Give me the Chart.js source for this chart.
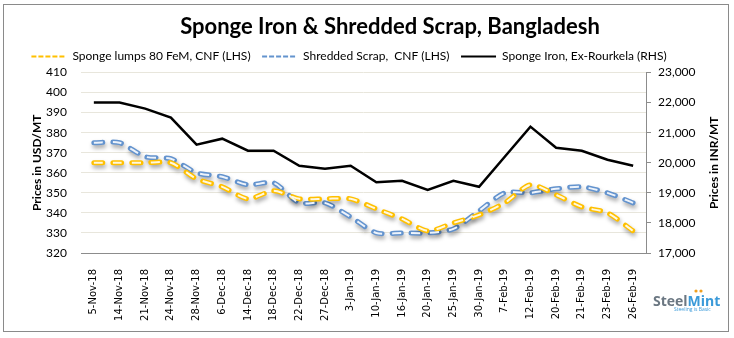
<!DOCTYPE html>
<html lang="en">
<head>
    <meta charset="UTF-8">
    <title>Sponge Iron & Shredded Scrap, Bangladesh</title>
    <script src="https://cdn.jsdelivr.net/npm/chart.js"></script>
    <style>
        html, body { margin: 0; padding: 0; background: #fff; }
        #caixa { width: 734px; height: 338px; position: relative; }
    </style>
</head>
<body>

    <div id="caixa"><canvas id="grafico"></canvas></div>

    <script>
        const datas = ['5-Nov-18', '14-Nov-18', '21-Nov-18', '24-Nov-18', '28-Nov-18', '6-Dec-18',
            '14-Dec-18', '18-Dec-18', '22-Dec-18', '27-Dec-18', '3-Jan-19', '10-Jan-19', '16-Jan-19',
            '20-Jan-19', '25-Jan-19', '30-Jan-19', '7-Feb-19', '12-Feb-19', '20-Feb-19', '21-Feb-19',
            '23-Feb-19', '26-Feb-19'];

        // USD/MT (left axis)
        const spongeLumps = [365, 365, 365, 365, 357, 353, 347, 351, 347, 347, 347,
            342, 337, 331, 335, 339, 345, 354, 349, 343, 340, 331];
        const shreddedScrap = [375, 375, 368, 367, 360, 358, 354, 355, 345, 345, 338,
            330, 330, 330, 332, 341, 350, 350, 352, 353, 350, 345];

        // INR/MT (right axis)
        const spongeIron = [22000, 22000, 21800, 21500, 20600, 20800, 20400, 20400, 19900, 19800, 19900,
            19350, 19400, 19100, 19400, 19200, 20200, 21200, 20500, 20400, 20100, 19900];

        const ticksUsd = [320, 330, 340, 350, 360, 370, 380, 390, 400, 410];
        const ticksInr = [17000, 18000, 19000, 20000, 21000, 22000, 23000];

        const corAmarelo = '#FFC000';
        const corAzul = '#6393CE';
        const corGrade = '#e8e6dc';
        const corEixo = '#8c8c8c';
        const fonte = 'Lato';

        // sombra suave sob as linhas tracejadas
        const sombraLinhas = {
            id: 'sombraLinhas',
            beforeDatasetDraw(chart, args) {
                const ds = chart.data.datasets[args.index];
                if (!ds.sombra) return;
                const ctx = chart.ctx;
                ctx.save();
                ctx.shadowColor = 'rgba(0, 0, 0, 0.35)';
                ctx.shadowBlur = 4;
                ctx.shadowOffsetX = 1;
                ctx.shadowOffsetY = 3;
            },
            afterDatasetDraw(chart, args) {
                const ds = chart.data.datasets[args.index];
                if (ds.sombra) chart.ctx.restore();
            }
        };

        // moldura, título, eixo da direita e marca
        const extras = {
            id: 'extras',
            afterDraw(chart) {
                const ctx = chart.ctx;
                const area = chart.chartArea;
                ctx.save();

                ctx.strokeStyle = '#8a8a8a';
                ctx.lineWidth = 1;
                ctx.strokeRect(3.5, 4.5, 725, 327);

                ctx.fillStyle = '#000';
                ctx.font = `bold 22px ${fonte}`;
                ctx.textAlign = 'center';
                ctx.textBaseline = 'middle';
                ctx.fillText('Sponge Iron & Shredded Scrap, Bangladesh', 390, 27);

                ctx.save();
                ctx.translate(714, (area.top + area.bottom) / 2);
                ctx.rotate(-Math.PI / 2);
                ctx.font = `bold 12px ${fonte}`;
                ctx.fillText('Prices in INR/MT', 0, 0);
                ctx.restore();

                ctx.textAlign = 'left';
                ctx.textBaseline = 'alphabetic';
                ctx.font = 'bold 14px "Open Sans"';
                ctx.fillStyle = '#6b7782';
                ctx.fillText('Steel', 653, 306);
                const w = ctx.measureText('Steel').width;
                ctx.fillStyle = '#3a9ad9';
                ctx.fillText('Mint', 653 + w, 306);
                ctx.fillStyle = '#f0a020';
                ctx.beginPath();
                ctx.arc(696, 291, 1.6, 0, Math.PI * 2);
                ctx.arc(701, 291, 1.6, 0, Math.PI * 2);
                ctx.fill();
                ctx.font = '5px "Open Sans"';
                ctx.fillStyle = '#3a9ad9';
                ctx.fillText('Steeling is Basic', 674, 311);

                ctx.restore();
            }
        };

        function tracejada(label, dados, cor) {
            return {
                label: label,
                data: dados,
                yAxisID: 'y',
                borderColor: cor,
                backgroundColor: cor,
                borderWidth: 5,
                borderDash: [9, 10],
                borderCapStyle: 'round',
                tension: 0.25,
                pointRadius: 0,
                pointHoverRadius: 0,
                pointStyle: 'line',
                sombra: true,
                tracoLegenda: [5, 2],
                order: 3
            };
        }

        function miolo(dados, cor) {
            return {
                label: '',
                data: dados,
                yAxisID: 'y',
                borderColor: cor,
                borderWidth: 2,
                borderDash: [9, 10],
                borderCapStyle: 'butt',
                tension: 0.25,
                pointRadius: 0,
                pointHoverRadius: 0,
                interno: true,
                order: 2
            };
        }

        new Chart(document.getElementById('grafico'), {
            type: 'line',
            data: {
                labels: datas,
                datasets: [
                    tracejada('Sponge lumps 80 FeM, CNF (LHS)', spongeLumps, corAmarelo),
                    tracejada('Shredded Scrap,  CNF (LHS)', shreddedScrap, corAzul),
                    {
                        label: 'Sponge Iron, Ex-Rourkela (RHS)',
                        data: spongeIron,
                        yAxisID: 'y1',
                        borderColor: '#000',
                        backgroundColor: '#000',
                        borderWidth: 2.5,
                        tension: 0,
                        pointRadius: 0,
                        pointHoverRadius: 0,
                        pointStyle: 'line',
                        tracoLegenda: [],
                        order: 1
                    },
                    miolo(spongeLumps, '#fff8e0'),
                    miolo(shreddedScrap, '#edf3fb')
                ]
            },
            options: {
                responsive: true,
                maintainAspectRatio: false,
                animation: false,
                layout: { padding: { top: 39, left: 0, right: 36, bottom: 0 } },
                plugins: {
                    title: { display: false },
                    tooltip: { enabled: false },
                    legend: {
                        position: 'top',
                        labels: {
                            usePointStyle: true,
                            pointStyleWidth: 35,
                            padding: 11.5,
                            color: '#000',
                            font: { family: fonte, size: 12 },
                            generateLabels(chart) {
                                return chart.data.datasets
                                    .map((ds, i) => ({ ds, i }))
                                    .filter(o => !o.ds.interno)
                                    .map(({ ds, i }) => ({
                                        text: ds.label,
                                        fillStyle: ds.borderColor,
                                        strokeStyle: ds.borderColor,
                                        lineWidth: 2,
                                        lineDash: ds.tracoLegenda,
                                        lineCap: 'butt',
                                        pointStyle: 'line',
                                        hidden: false,
                                        datasetIndex: i
                                    }));
                            }
                        }
                    }
                },
                scales: {
                    x: {
                        offset: true,
                        afterFit: s => { s.height = 85; },
                        grid: { display: false },
                        border: { display: true, color: corEixo },
                        ticks: {
                            autoSkip: false,
                            minRotation: 90,
                            maxRotation: 90,
                            padding: 8,
                            color: '#000',
                            font: { family: 'DejaVu Sans', size: 10 }
                        }
                    },
                    y: {
                        position: 'left',
                        min: ticksUsd[0],
                        max: ticksUsd[ticksUsd.length - 1],
                        afterFit: s => { s.width = 81; },
                        grid: { color: corGrade, drawTicks: false },
                        border: { display: false },
                        ticks: {
                            stepSize: ticksUsd[1] - ticksUsd[0],
                            padding: 14,
                            color: '#000',
                            font: { family: fonte, size: 12 }
                        },
                        title: {
                            display: true,
                            text: 'Prices in USD/MT',
                            color: '#000',
                            font: { family: fonte, size: 12, weight: 'bold' },
                            padding: { top: 30, bottom: 0 }
                        }
                    },
                    y1: {
                        position: 'right',
                        min: ticksInr[0],
                        max: ticksInr[ticksInr.length - 1],
                        afterFit: s => { s.width = 52; },
                        grid: { drawOnChartArea: false, drawTicks: true, tickLength: 5, color: corEixo },
                        border: { display: true, color: corEixo },
                        ticks: {
                            stepSize: ticksInr[1] - ticksInr[0],
                            padding: 7,
                            color: '#000',
                            font: { family: fonte, size: 12 },
                            callback: v => v.toLocaleString('en-US')
                        }
                    }
                }
            },
            plugins: [sombraLinhas, extras]
        });
    </script>

</body>
</html>
